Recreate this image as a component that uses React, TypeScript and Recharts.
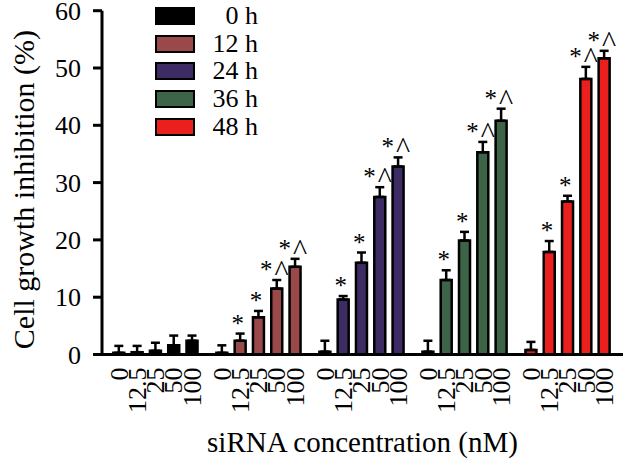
import React from "react";
import { ComposedChart, Bar, Cell, ErrorBar, Scatter, XAxis, YAxis } from "recharts";

const times = ["0 h", "12 h", "24 h", "36 h", "48 h"];
const concentrations = ["0", "12.5", "25", "50", "100"];
const colors = ["#000000", "#994949", "#3d2c64", "#3e6447", "#ec1f1f"];

const inhibition0h = [0.3, 0.4, 0.65, 1.6, 2.4];
const inhibition12h = [0.3, 2.4, 6.5, 11.5, 15.3];
const inhibition24h = [0.5, 9.6, 16.0, 27.5, 32.8];
const inhibition36h = [0.5, 13.0, 19.9, 35.3, 40.8];
const inhibition48h = [0.8, 17.9, 26.7, 48.1, 51.7];

const error0h = [1.2, 1.1, 1.4, 1.7, 0.9];
const error12h = [1.3, 1.25, 1.1, 1.5, 1.4];
const error24h = [1.9, 0.6, 1.8, 1.7, 1.6];
const error36h = [1.9, 1.7, 1.5, 1.8, 2.1];
const error48h = [1.4, 1.9, 1.0, 2.1, 1.3];

// * vs control, ^ vs lower concentration
const marksControl = ["", "", "", "", ""];
const marksTreated = ["", "*", "*", "*^", "*^"];

const values = [inhibition0h, inhibition12h, inhibition24h, inhibition36h, inhibition48h];
const errors = [error0h, error12h, error24h, error36h, error48h];
const marks = [marksControl, marksTreated, marksTreated, marksTreated, marksTreated];

const GROUP_STEP = 5.63;
const SERIF = "Liberation Serif, Tinos, Times New Roman, serif";

const rows = times.flatMap((_, g) =>
	concentrations.map((label, i) => ({
		x: g * GROUP_STEP + i,
		label,
		group: g,
		value: values[g][i],
		err: errors[g][i],
		top: values[g][i] + errors[g][i],
		mark: marks[g][i],
	})),
);

const markRows = rows.filter((r) => r.mark);

const XTick = (props: any) => {
	const { x, y, payload } = props;
	const row = rows.find((r) => Math.abs(r.x - payload.value) < 1e-6);
	return (
		<text
			x={x}
			y={y}
			transform={`rotate(-90, ${x}, ${y})`}
			textAnchor="end"
			dy="0.35em"
			style={{ fontFamily: SERIF }}
			fontSize={26}
			fill="#000"
		>
			{row ? row.label : ""}
		</text>
	);
};

const YTick = (props: any) => {
	const { x, y, payload } = props;
	return (
		<text x={x} y={y} textAnchor="end" dy="0.35em" style={{ fontFamily: SERIF }} fontSize={26} fill="#000">
			{payload.value}
		</text>
	);
};

const MarkShape = (props: any) => {
	const { cx, cy, payload } = props;
	if (!payload || !payload.mark) return <g />;
	const hasCaret = payload.mark.includes("^");
	return (
		<text x={cx - 2} y={cy - 2} textAnchor="middle" style={{ fontFamily: SERIF }} fontSize={25} fill="#000">
			*
			{hasCaret && (
				<tspan dx={2} dy={3} fontSize={30}>
					^
				</tspan>
			)}
		</text>
	);
};

const YLabel = (props: any) => {
	const { viewBox } = props;
	const cy = viewBox.y + viewBox.height / 2 + 7;
	return (
		<text
			x={24}
			y={cy}
			transform={`rotate(-90, 24, ${cy})`}
			textAnchor="middle"
			dominantBaseline="central"
			style={{ fontFamily: SERIF }}
			fontSize={30}
			fill="#000"
		>
			Cell growth inhibition (%)
		</text>
	);
};

const XLabel = (props: any) => {
	const { viewBox } = props;
	return (
		<text
			x={viewBox.x + viewBox.width / 2}
			y={viewBox.y + 97.5}
			textAnchor="middle"
			style={{ fontFamily: SERIF }}
			fontSize={29}
			fill="#000"
		>
			siRNA concentration (nM)
		</text>
	);
};

const LegendBox = () => (
	<div style={{ position: "absolute", left: 155, top: 2, fontFamily: SERIF, fontSize: 26, color: "#000" }}>
		{times.map((t, g) => (
			<div key={t} style={{ display: "flex", alignItems: "center", height: 27.7 }}>
				<div
					style={{
						width: 40,
						height: 18,
						boxSizing: "border-box",
						border: "2.5px solid #000",
						background: colors[g],
					}}
				/>
				<div style={{ width: 63, textAlign: "right", lineHeight: "27.7px", whiteSpace: "nowrap" }}>{t}</div>
			</div>
		))}
	</div>
);

export default function App() {
	const lastX = rows[rows.length - 1].x;
	return (
		<div style={{ position: "absolute", left: 0, top: 0, width: 625, height: 464, background: "#fff" }}>
			<ComposedChart width={625} height={464} data={rows} margin={{ top: 10.7, right: 2, bottom: 0, left: 0 }}>
				<XAxis
					type="number"
					dataKey="x"
					domain={[-0.9, lastX + 1.05]}
					ticks={rows.map((r) => r.x)}
					interval={0}
					height={109.5}
					tickLine={false}
					tickSize={0}
					tickMargin={13}
					tick={<XTick />}
					axisLine={{ stroke: "#000", strokeWidth: 3 }}
					label={XLabel}
				/>
				<YAxis
					type="number"
					domain={[0, 60]}
					ticks={[0, 10, 20, 30, 40, 50, 60]}
					interval={0}
					width={102}
					tickSize={9}
					tickMargin={12}
					tick={<YTick />}
					tickLine={{ stroke: "#000", strokeWidth: 3 }}
					axisLine={{ stroke: "#000", strokeWidth: 3 }}
					label={YLabel}
				/>
				<Bar dataKey="value" barSize={11} stroke="#000" strokeWidth={2.5} isAnimationActive={false}>
					{rows.map((r) => (
						<Cell key={r.x} fill={colors[r.group]} />
					))}
					<ErrorBar
						dataKey={(d: any) => [0, d.err]}
						width={4.5}
						stroke="#000"
						strokeWidth={2.5}
						direction="y"
					/>
				</Bar>
				<Scatter data={markRows} dataKey="top" shape={<MarkShape />} isAnimationActive={false} />
			</ComposedChart>
			<LegendBox />
		</div>
	);
}
